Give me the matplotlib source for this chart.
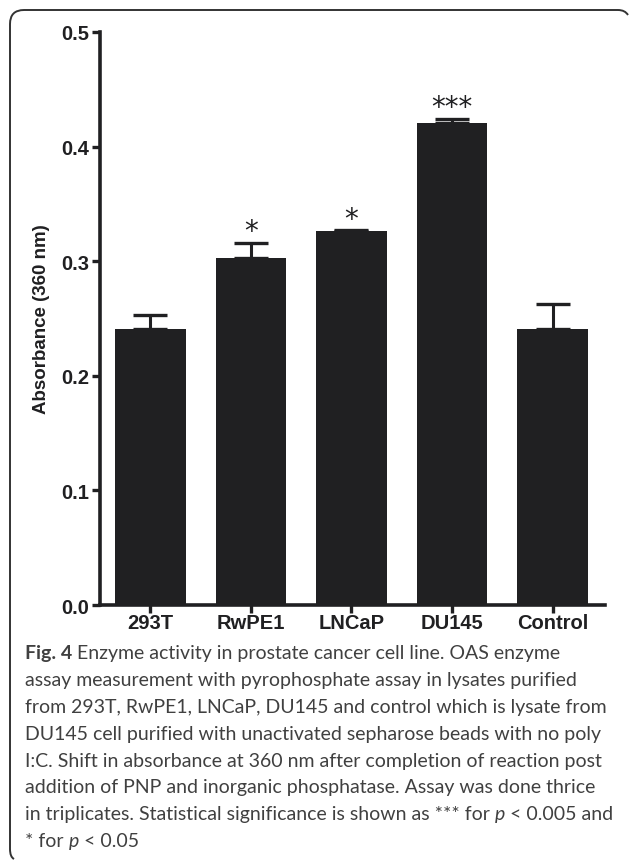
import matplotlib.pyplot as plt
from matplotlib.path import Path
from matplotlib.patches import PathPatch

cells = ["293T", "RwPE1", "LNCaP", "DU145", "Control"]
absorb = [0.241, 0.303, 0.326, 0.421, 0.241]
err = [0.012, 0.013, 0.001, 0.003, 0.022]
stars = ["", "*", "*", "***", ""]

W, H = 629, 862
fig = plt.figure(figsize=(W / 100, H / 100), dpi=100)

# axes placement in pixels
x0, x1, y0, y1 = 100, 605, 606, 33
ax = fig.add_axes([x0 / W, 1 - y0 / H, (x1 - x0) / W, (y0 - y1) / H])

xs = range(len(cells))
ax.bar(xs, absorb, width=0.7, color="#202022", zorder=2)
ax.errorbar(xs, absorb, yerr=[[0] * len(err), err], fmt="none",
            ecolor="#202022", elinewidth=2.2, capsize=12.5, capthick=2.4, zorder=1)
for i, s in enumerate(stars):
    if s:
        ax.text(i, absorb[i] + err[i] - 0.002, s, ha="center", va="bottom",
                fontsize=20, family="DejaVu Sans", color="#202022")

ax.set_xlim(-0.5, 4.52)
ax.set_ylim(0, 0.5)
ax.set_yticks([0.0, 0.1, 0.2, 0.3, 0.4, 0.5])
ax.set_yticklabels(["0.0", "0.1", "0.2", "0.3", "0.4", "0.5"])
ax.set_xticks(list(xs))
ax.set_xticklabels(cells)
for sp in ["top", "right"]:
    ax.spines[sp].set_visible(False)
for sp in ["left", "bottom"]:
    ax.spines[sp].set_linewidth(2.6)
    ax.spines[sp].set_color("#202022")
ax.tick_params(axis="both", length=6, width=2.4, color="#202022", pad=2,
               labelsize=14.5, labelcolor="#202022")
ax.tick_params(axis="x", pad=0)
for lab in ax.get_xticklabels() + ax.get_yticklabels():
    lab.set_fontweight("bold")
    lab.set_family("Liberation Sans")
ax.set_ylabel("Absorbance (360 nm)", fontsize=13.5, fontweight="bold",
              family="Liberation Sans", color="#202022", labelpad=8)

# rounded frame (left + top edges)
def px(x, y):
    return (x / W, 1 - y / H)

r = 14
verts = [px(14, 860), px(10, 858), px(10, 850),
         px(10, 11 + r), px(10, 11), px(10 + r, 11),
         px(618, 11), px(625, 11), px(628, 16)]
codes = [Path.MOVETO, Path.CURVE3, Path.CURVE3,
         Path.LINETO, Path.CURVE3, Path.CURVE3,
         Path.LINETO, Path.CURVE3, Path.CURVE3]
fig.patches.append(PathPatch(Path(verts, codes), transform=fig.transFigure,
                             fill=False, edgecolor="#333333", lw=1.4))

# caption
cap_font = "Lato"
cap_color = "#404040"
renderer = fig.canvas.get_renderer()

# pick size so the longest plain line spans like the reference (~552 px)
probe = fig.text(0, 0, "assay measurement with pyrophosphate assay in lysates purified",
                 family=cap_font, fontsize=15)
wpx = probe.get_window_extent(renderer).width
probe.remove()
cap_size = 15 * 552 / wpx

caption = [
    [("Fig. 4", "bold", "normal"), (" Enzyme activity in prostate cancer cell line. OAS enzyme", "normal", "normal")],
    [("assay measurement with pyrophosphate assay in lysates purified", "normal", "normal")],
    [("from 293T, RwPE1, LNCaP, DU145 and control which is lysate from", "normal", "normal")],
    [("DU145 cell purified with unactivated sepharose beads with no poly", "normal", "normal")],
    [("I:C. Shift in absorbance at 360 nm after completion of reaction post", "normal", "normal")],
    [("addition of PNP and inorganic phosphatase. Assay was done thrice", "normal", "normal")],
    [("in triplicates. Statistical significance is shown as *** for ", "normal", "normal"),
     ("p", "normal", "italic"), (" < 0.005 and", "normal", "normal")],
    [("* for ", "normal", "normal"), ("p", "normal", "italic"), (" < 0.05", "normal", "normal")],
]

base0 = 659
step = 26.9
for k, parts in enumerate(caption):
    xpix = 25
    ybase = 1 - (base0 + k * step) / H
    for s, wt, st in parts:
        t = fig.text(xpix / W, ybase, s, family=cap_font, fontsize=cap_size,
                     fontweight=wt, style=st, color=cap_color, va="baseline")
        xpix += t.get_window_extent(renderer).width

fig.savefig("out.png", dpi=100)
